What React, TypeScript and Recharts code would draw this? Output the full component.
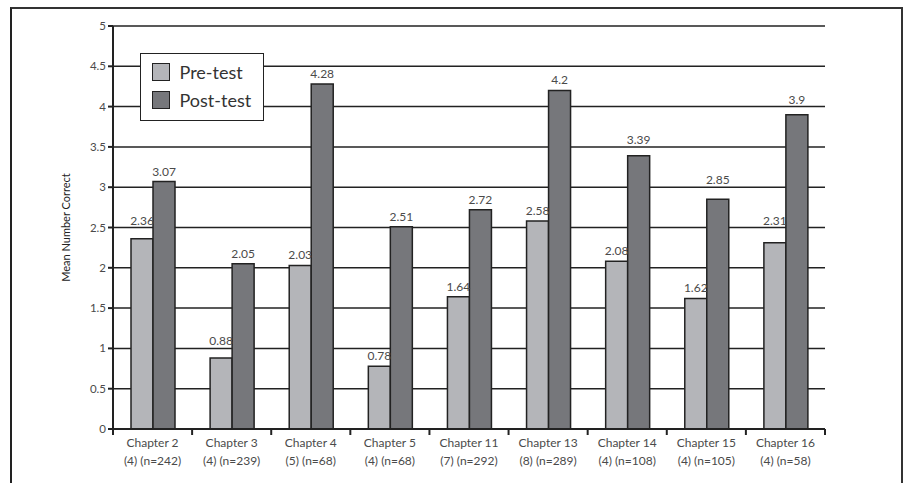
import React from "react";
import {
  BarChart,
  Bar,
  XAxis,
  YAxis,
  CartesianGrid,
  Legend,
  LabelList,
} from "recharts";

const chapters = [
  "Chapter 2",
  "Chapter 3",
  "Chapter 4",
  "Chapter 5",
  "Chapter 11",
  "Chapter 13",
  "Chapter 14",
  "Chapter 15",
  "Chapter 16",
];
const counts = [
  "(4) (n=242)",
  "(4) (n=239)",
  "(5) (n=68)",
  "(4) (n=68)",
  "(7) (n=292)",
  "(8) (n=289)",
  "(4) (n=108)",
  "(4) (n=105)",
  "(4) (n=58)",
];
const preTest = [2.36, 0.88, 2.03, 0.78, 1.64, 2.58, 2.08, 1.62, 2.31];
const postTest = [3.07, 2.05, 4.28, 2.51, 2.72, 4.2, 3.39, 2.85, 3.9];
const yTicks = [0, 0.5, 1, 1.5, 2, 2.5, 3, 3.5, 4, 4.5, 5];

const FONT = "Lato, 'Open Sans', sans-serif";
const INK = "#222";
const TEXT = "#4a4a4a";
const PRE = "#b4b5b9";
const POST = "#76777b";

const series = [
  { key: "pre", name: "Pre-test", color: PRE },
  { key: "post", name: "Post-test", color: POST },
];

const WIDTH = 909;
const HEIGHT = 483;
const MARGIN = { top: 26, right: 84, left: 53, bottom: 24 };
const Y_WIDTH = 60;
const PLOT_W = WIDTH - MARGIN.left - Y_WIDTH - MARGIN.right;
const HALF_BAND = PLOT_W / chapters.length / 2;

const data = chapters.map((c, i) => ({
  name: c,
  pre: preTest[i],
  post: postTest[i],
}));

// category label with tick marks on the band edges
function ChapterTick(props: any) {
  const { x, y, payload, index } = props;
  const sub = counts[index] ?? "";
  const last = index === chapters.length - 1;
  return (
    <g>
      <line x1={x - HALF_BAND} x2={x - HALF_BAND} y1={429} y2={435} stroke={INK} strokeWidth={2} />
      {last && (
        <line x1={x + HALF_BAND} x2={x + HALF_BAND} y1={429} y2={435} stroke={INK} strokeWidth={2} />
      )}
      <text x={x} y={y + 10} textAnchor="middle" fontSize={12} fill={TEXT} fontFamily={FONT}>
        {payload.value}
      </text>
      <text x={x} y={y + 28} textAnchor="middle" fontSize={12} fill={TEXT} fontFamily={FONT}>
        {sub}
      </text>
    </g>
  );
}

// value label above the bar, nudged above a gridline when it would sit on one
function ValueLabel(props: any) {
  const vb = props.viewBox ?? props;
  const { x, y, width, height } = vb;
  const value = Number(props.value);
  if (!value || !height) return null;
  const k = height / value;
  let bottom = y - 6;
  for (const g of yTicks) {
    const gy = y + (value - g) * k;
    if (gy >= bottom - 9.5 && gy <= bottom + 1.5) {
      bottom = gy - 3;
      break;
    }
  }
  return (
    <text x={x + width / 2} y={bottom} textAnchor="middle" fontSize={12} fill={TEXT} fontFamily={FONT}>
      {props.value}
    </text>
  );
}

function LegendBox() {
  return (
    <div
      style={{
        border: `1.5px solid ${INK}`,
        background: "#fff",
        width: 124,
        height: 68,
        boxSizing: "border-box",
        padding: "3.5px 0 0 10.5px",
        fontFamily: FONT,
      }}
    >
      {series.map((s) => (
        <div key={s.key} style={{ display: "flex", alignItems: "center", height: 28 }}>
          <span
            style={{
              display: "inline-block",
              width: 18,
              height: 18,
              boxSizing: "border-box",
              background: s.color,
              border: `1.5px solid ${INK}`,
              marginRight: 10,
            }}
          />
          <span style={{ fontSize: 18, color: "#333" }}>{s.name}</span>
        </div>
      ))}
    </div>
  );
}

export default function App() {
  return (
    <div style={{ position: "absolute", left: 0, top: 0, width: WIDTH, height: HEIGHT, overflow: "hidden", background: "#fff" }}>
      {/* outer frame, open at the bottom */}
      <div
        style={{
          position: "absolute",
          left: 10,
          top: 7,
          width: 893,
          height: 520,
          boxSizing: "border-box",
          borderTop: "2px solid #333",
          borderLeft: "2.5px solid #222",
          borderRight: "2px solid #333",
        }}
      />
      <BarChart
        width={WIDTH}
        height={HEIGHT}
        data={data}
        margin={MARGIN}
        barGap={0}
        barSize={22}
        style={{ position: "absolute", left: 0, top: 0 }}
      >
        <CartesianGrid horizontal vertical={false} stroke={INK} strokeWidth={1.5} strokeOpacity={1} />
        <XAxis
          dataKey="name"
          axisLine={{ stroke: INK, strokeWidth: 2 }}
          tickLine={false}
          interval={0}
          tick={<ChapterTick />}
          height={30}
        />
        <YAxis
          width={Y_WIDTH}
          domain={[0, 5]}
          ticks={yTicks}
          interval={0}
          axisLine={{ stroke: INK, strokeWidth: 2 }}
          tickLine={{ stroke: INK, strokeWidth: 2 }}
          tickSize={5}
          tick={{ fontSize: 11.5, fill: TEXT, fontFamily: FONT }}
          label={{
            content: (p: any) => {
              const vb = p.viewBox || {};
              const cx = 65;
              const cy = vb.y + vb.height / 2;
              return (
                <text
                  x={cx}
                  y={cy}
                  transform={`rotate(-90 ${cx} ${cy})`}
                  textAnchor="middle"
                  dominantBaseline="central"
                  fontSize={11}
                  fill="#222"
                  fontFamily={FONT}
                >
                  Mean Number Correct
                </text>
              );
            },
          }}
        />
        <YAxis
          yAxisId="right"
          orientation="right"
          width={0}
          domain={[0, 5]}
          tick={false}
          tickLine={false}
          axisLine={{ stroke: INK, strokeWidth: 2 }}
        />
        <Legend
          layout="vertical"
          align="center"
          verticalAlign="middle"
          content={<LegendBox />}
          wrapperStyle={{ left: 140, top: 53, width: 124, height: 68 }}
        />
        {series.map((s) => (
          <Bar
            key={s.key}
            dataKey={s.key}
            name={s.name}
            fill={s.color}
            stroke={INK}
            strokeWidth={1.5}
            isAnimationActive={false}
          >
            <LabelList dataKey={s.key} content={<ValueLabel />} />
          </Bar>
        ))}
      </BarChart>
    </div>
  );
}
